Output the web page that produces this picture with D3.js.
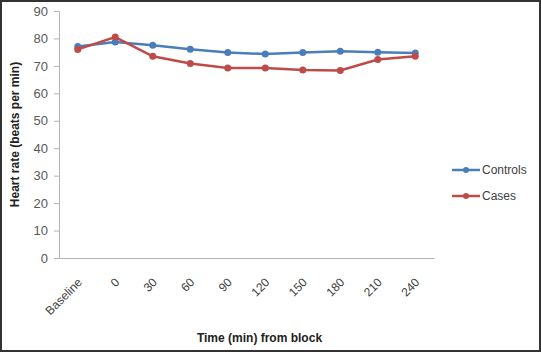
<!DOCTYPE html>
<html>
<head>
<meta charset="utf-8">
<script src="https://cdn.jsdelivr.net/npm/d3@7"></script>
<style>
  body { margin: 0; background: #fff; }
  text { font-family: "Liberation Sans", Arial, sans-serif; }
</style>
</head>
<body>
<div id="wrapper"></div>
<script>
const categories = ["Baseline", "0", "30", "60", "90", "120", "150", "180", "210", "240"];
const controls = [77.1, 78.7, 77.5, 76.1, 74.9, 74.3, 74.9, 75.3, 75.0, 74.7];
const cases = [76.0, 80.5, 73.5, 70.9, 69.2, 69.2, 68.5, 68.3, 72.3, 73.5];
const yTicks = [0, 10, 20, 30, 40, 50, 60, 70, 80, 90];
const seriesNames = ["Controls", "Cases"];
const seriesColors = ["#4a7ebb", "#be4b48"];

const width = 541, height = 352;
const margins = { top: 11, left: 59, right: 107, bottom: 94 };
const boundedWidth = width - margins.left - margins.right;
const boundedHeight = height - margins.top - margins.bottom;

const svg = d3.select("#wrapper").append("svg")
  .attr("width", width)
  .attr("height", height);

// outer frame
svg.append("rect")
  .attr("x", 1).attr("y", 1)
  .attr("width", width - 2).attr("height", height - 2)
  .attr("fill", "#fff")
  .attr("stroke", "#333")
  .attr("stroke-width", 2);

const bounds = svg.append("g")
  .attr("transform", `translate(${margins.left},${margins.top})`);

const xScale = d3.scaleBand()
  .domain(categories)
  .range([0, boundedWidth]);

const yScale = d3.scaleLinear()
  .domain([0, 90])
  .range([boundedHeight, 0]);

// y axis
const yAxis = bounds.append("g")
  .call(d3.axisLeft(yScale).tickValues(yTicks).tickSize(5).tickPadding(6));
yAxis.select(".domain").attr("stroke", "#b3b3b3");
yAxis.selectAll(".tick line").attr("stroke", "#b3b3b3");
yAxis.selectAll("text")
  .attr("fill", "#595959")
  .style("font-size", "13px");

// x axis
const xAxis = bounds.append("g")
  .attr("transform", `translate(0,${boundedHeight})`)
  .call(d3.axisBottom(xScale).tickSize(0).tickSizeOuter(0));
xAxis.select(".domain").attr("stroke", "#b3b3b3");
xAxis.selectAll("text")
  .attr("fill", "#404040")
  .style("font-size", "12px")
  .attr("text-anchor", "end")
  .attr("dy", "0.35em")
  .attr("transform", "translate(0,20) rotate(-45)");

// lines
const series = [controls, cases];
const lineGenerator = d3.line()
  .x((d, i) => xScale(categories[i]) + xScale.bandwidth() / 2)
  .y(d => yScale(d));

series.forEach((values, s) => {
  bounds.append("path")
    .attr("d", lineGenerator(values))
    .attr("fill", "none")
    .attr("stroke", seriesColors[s])
    .attr("stroke-width", 2.5);
  bounds.selectAll(null)
    .data(values)
    .join("circle")
    .attr("cx", (d, i) => xScale(categories[i]) + xScale.bandwidth() / 2)
    .attr("cy", d => yScale(d))
    .attr("r", 3.5)
    .attr("fill", seriesColors[s]);
});

// axis titles
svg.append("text")
  .attr("x", margins.left + boundedWidth / 2 + 13)
  .attr("y", 342)
  .attr("text-anchor", "middle")
  .style("font-size", "12px")
  .style("font-weight", "bold")
  .attr("fill", "#222")
  .text("Time (min) from block");

svg.append("text")
  .attr("transform", `translate(15,${margins.top + boundedHeight / 2}) rotate(-90)`)
  .attr("text-anchor", "middle")
  .attr("dy", "0.35em")
  .style("font-size", "12px")
  .style("font-weight", "bold")
  .attr("fill", "#222")
  .text("Heart rate (beats per min)");

// legend
const legend = svg.append("g").attr("transform", "translate(452,170)");
seriesNames.forEach((name, i) => {
  const g = legend.append("g").attr("transform", `translate(0,${i * 26})`);
  g.append("line")
    .attr("x1", 0).attr("x2", 28)
    .attr("stroke", seriesColors[i])
    .attr("stroke-width", 2.5);
  g.append("circle").attr("cx", 14).attr("r", 3).attr("fill", seriesColors[i]);
  g.append("text")
    .attr("x", 30)
    .attr("dy", "0.35em")
    .style("font-size", "12px")
    .attr("fill", "#404040")
    .text(name);
});
</script>
</body>
</html>
